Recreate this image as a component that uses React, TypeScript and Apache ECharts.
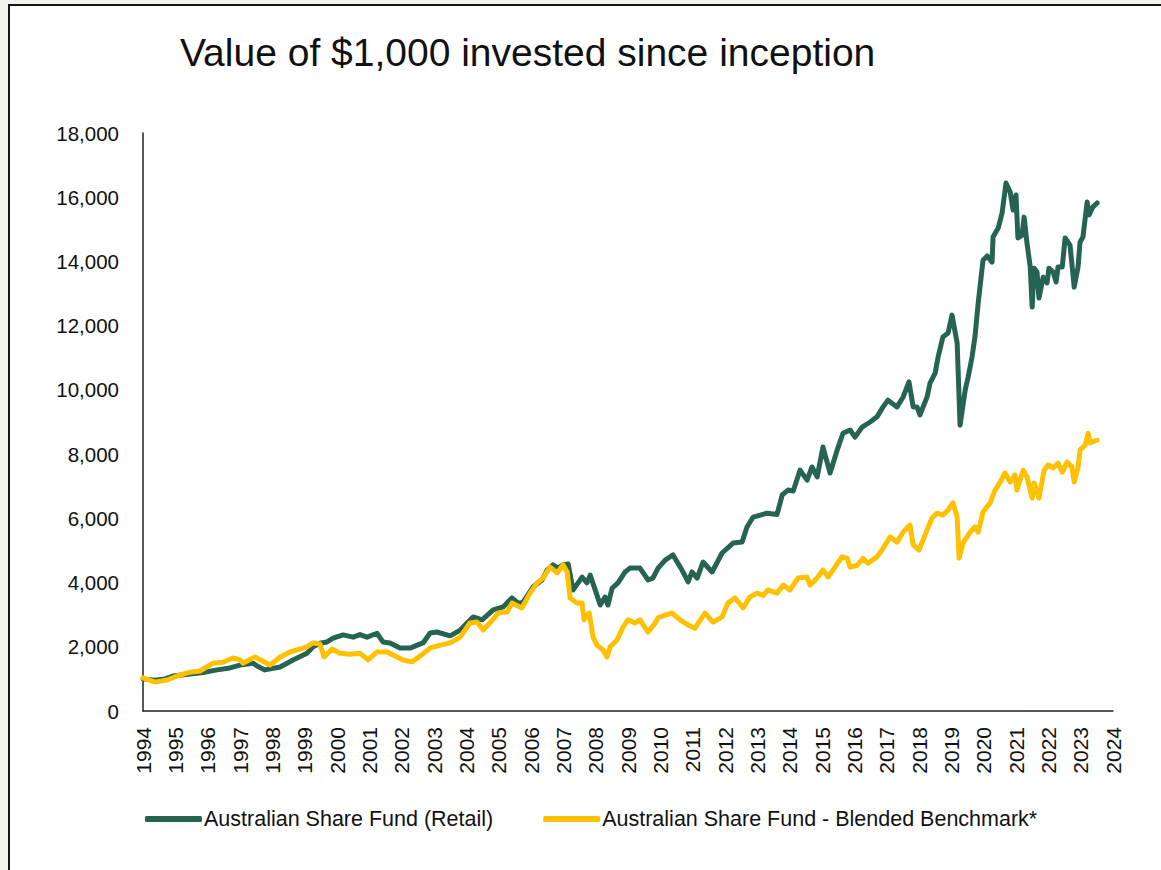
import React, { useEffect, useRef } from "react";
import * as echarts from "echarts";

const title = "Value of $1,000 invested since inception";
const fundName = "Australian Share Fund (Retail)";
const benchName = "Australian Share Fund - Blended Benchmark*";

const fundDates = [
  1994.0, 1994.37, 1994.68, 1994.93, 1995.45, 1995.86, 1996.29, 1996.69, 1997.0, 1997.4, 1997.53, 1997.77,
  1998.24, 1998.64, 1999.07, 1999.26, 1999.47, 1999.69, 1999.88, 2000.19, 2000.5, 2000.71, 2000.93, 2001.24,
  2001.42, 2001.64, 2001.95, 2002.26, 2002.48, 2002.66, 2002.88, 2003.09, 2003.5, 2003.81, 2004.21, 2004.49,
  2004.83, 2005.14, 2005.41, 2005.6, 2005.75, 2006.06, 2006.34, 2006.5, 2006.68, 2006.84, 2006.99, 2007.15,
  2007.3, 2007.58, 2007.73, 2007.83, 2008.04, 2008.14, 2008.29, 2008.38, 2008.51, 2008.69, 2008.91, 2009.06,
  2009.37, 2009.62, 2009.77, 2009.93, 2010.15, 2010.39, 2010.67, 2010.86, 2010.98, 2011.14, 2011.32, 2011.6,
  2011.91, 2012.25, 2012.53, 2012.68, 2012.87, 2013.3, 2013.61, 2013.77, 2013.95, 2014.11, 2014.32, 2014.54,
  2014.69, 2014.85, 2015.03, 2015.25, 2015.47, 2015.65, 2015.87, 2016.02, 2016.24, 2016.49, 2016.7, 2016.89,
  2017.04, 2017.32, 2017.51, 2017.69, 2017.82, 2017.94, 2018.03, 2018.25, 2018.34, 2018.5, 2018.59, 2018.74,
  2018.9, 2019.02, 2019.18, 2019.27, 2019.43, 2019.52, 2019.64, 2019.73, 2019.83, 2019.98, 2020.11, 2020.26,
  2020.29, 2020.45, 2020.57, 2020.69, 2020.82, 2020.91, 2021.0, 2021.06, 2021.19, 2021.25, 2021.34, 2021.44,
  2021.5, 2021.56, 2021.65, 2021.71, 2021.84, 2021.96, 2022.02, 2022.15, 2022.24, 2022.3, 2022.43, 2022.52,
  2022.67, 2022.77, 2022.8, 2022.92, 2022.98, 2023.07, 2023.2, 2023.26, 2023.38, 2023.51,
];
const fundValues = [
  1000, 960, 1000, 1090, 1150, 1200, 1280, 1340, 1430, 1490, 1400, 1280,
  1370, 1590, 1800, 2000, 2110, 2150, 2270, 2370, 2300, 2380, 2300, 2420,
  2150, 2120, 1960, 1960, 2050, 2120, 2430, 2460, 2340, 2520, 2930, 2840,
  3150, 3240, 3520, 3360, 3380, 3860, 4080, 4390, 4550, 4450, 4550, 4580,
  3770, 4170, 3990, 4230, 3610, 3300, 3550, 3300, 3830, 3990, 4330, 4450,
  4450, 4080, 4140, 4450, 4700, 4860, 4390, 4020, 4330, 4140, 4640, 4330,
  4920, 5230, 5260, 5730, 6040, 6160, 6120, 6730, 6880, 6850, 7500, 7190,
  7600, 7290, 8220, 7410, 8130, 8650, 8750, 8530, 8840, 9000, 9160, 9470,
  9680, 9470, 9780, 10250, 9470, 9470, 9220, 9780, 10210, 10520, 11020, 11650,
  11770, 12330, 11460, 8900, 10000, 10400, 11020, 11650, 12700, 14040, 14170, 13980,
  14760, 15040, 15510, 16440, 16160, 15600, 16070, 14730, 14820, 15380, 14570, 13830,
  12580, 13790, 13670, 12860, 13510, 13330, 13790, 13670, 13360, 13830, 13830, 14730,
  14510, 13510, 13200, 13830, 14600, 14760, 15850, 15450, 15700, 15820,
];

const benchDates = [
  1994.0, 1994.37, 1994.74, 1995.05, 1995.45, 1995.76, 1996.17, 1996.47, 1996.78, 1997.0, 1997.09, 1997.46,
  1997.93, 1998.24, 1998.55, 1998.86, 1999.07, 1999.26, 1999.47, 1999.6, 1999.85, 2000.09, 2000.4, 2000.71,
  2000.96, 2001.24, 2001.55, 2001.86, 2002.04, 2002.32, 2002.57, 2002.88, 2003.19, 2003.5, 2003.81, 2004.11,
  2004.33, 2004.52, 2004.73, 2004.98, 2005.26, 2005.41, 2005.72, 2005.97, 2006.19, 2006.37, 2006.59, 2006.81,
  2006.99, 2007.12, 2007.21, 2007.42, 2007.58, 2007.64, 2007.8, 2007.92, 2008.04, 2008.23, 2008.35, 2008.45,
  2008.66, 2008.85, 2009.0, 2009.22, 2009.37, 2009.62, 2009.84, 2009.93, 2010.15, 2010.36, 2010.61, 2010.86,
  2011.07, 2011.38, 2011.63, 2011.91, 2012.09, 2012.31, 2012.56, 2012.77, 2012.99, 2013.18, 2013.33, 2013.61,
  2013.8, 2014.01, 2014.26, 2014.54, 2014.63, 2014.85, 2015.03, 2015.19, 2015.4, 2015.62, 2015.78, 2015.87,
  2016.08, 2016.27, 2016.42, 2016.7, 2016.89, 2017.11, 2017.32, 2017.51, 2017.72, 2017.82, 2018.0, 2018.25,
  2018.4, 2018.56, 2018.74, 2018.9, 2019.05, 2019.18, 2019.24, 2019.36, 2019.58, 2019.73, 2019.83, 2019.98,
  2020.2, 2020.35, 2020.51, 2020.66, 2020.82, 2020.97, 2021.03, 2021.22, 2021.34, 2021.5, 2021.56, 2021.71,
  2021.87, 2021.99, 2022.15, 2022.3, 2022.43, 2022.58, 2022.73, 2022.8, 2022.92, 2022.98, 2023.14, 2023.23,
  2023.29, 2023.51,
];
const benchValues = [
  1030, 900, 965, 1090, 1210, 1245, 1490, 1520, 1650, 1590, 1490, 1680,
  1430, 1680, 1840, 1930, 2000, 2120, 2090, 1680, 1930, 1800, 1770, 1800,
  1590, 1840, 1840, 1680, 1590, 1530, 1710, 1960, 2050, 2120, 2300, 2740,
  2770, 2520, 2740, 3050, 3080, 3360, 3210, 3670, 3990, 4140, 4480, 4300,
  4550, 4330, 3520, 3360, 3360, 2840, 3050, 2300, 2050, 1900, 1680, 2000,
  2210, 2620, 2840, 2740, 2840, 2460, 2740, 2900, 2990, 3050, 2840, 2680,
  2580, 3050, 2770, 2930, 3360, 3520, 3210, 3550, 3670, 3600, 3770, 3670,
  3920, 3770, 4140, 4170, 3920, 4140, 4390, 4170, 4480, 4800, 4750, 4480,
  4530, 4750, 4600, 4800, 5070, 5420, 5260, 5570, 5790, 5170, 5010, 5640,
  6010, 6160, 6100, 6260, 6480, 6040, 4760, 5230, 5570, 5730, 5570, 6200,
  6480, 6880, 7130, 7410, 7130, 7350, 6880, 7500, 7290, 6630, 7100, 6630,
  7500, 7660, 7570, 7720, 7440, 7750, 7600, 7130, 7600, 8130, 8280, 8650,
  8350, 8440,
];

const yMin = 0;
const yMax = 18000;
const yStep = 2000;
const xMin = 1994;
const xMax = 2024;

const GREEN = "#256352";
const YELLOW = "#ffc000";
const FONT = "Liberation Sans, Arial, sans-serif";

export default function App() {
  const ref = useRef<HTMLDivElement>(null);

  useEffect(() => {
    document.body.style.margin = "0";
    document.body.style.background = "#f3f3ef";
    document.body.style.overflow = "hidden";
    if (!ref.current) return;
    const chart = echarts.init(ref.current, undefined, { renderer: "svg" });
    const fundData = fundDates.map((d, i) => [d, fundValues[i]]);
    const benchData = benchDates.map((d, i) => [d, benchValues[i]]);
    chart.setOption({
      animation: false,
      backgroundColor: "#ffffff",
      textStyle: { fontFamily: FONT },
      title: {
        text: title,
        left: 165,
        top: 22,
        textStyle: { fontSize: 39, fontWeight: "normal", color: "#111", fontFamily: FONT },
      },
      grid: { left: 133, top: 127, width: 970, height: 578, containLabel: false },
      xAxis: {
        type: "value",
        min: xMin,
        max: xMax,
        interval: 1,
        axisLine: { show: true, lineStyle: { color: "#222", width: 1.5 } },
        axisTick: { show: false },
        splitLine: { show: false },
        axisLabel: {
          rotate: 90,
          margin: 16,
          fontSize: 21,
          color: "#111",
          fontFamily: FONT,
          formatter: (v: number) => String(Math.round(v)),
        },
      },
      yAxis: {
        type: "value",
        min: yMin,
        max: yMax,
        interval: yStep,
        axisLine: { show: true, lineStyle: { color: "#222", width: 1.5 } },
        axisTick: { show: false },
        splitLine: { show: false },
        axisLabel: {
          margin: 24,
          fontSize: 20.5,
          color: "#111",
          fontFamily: FONT,
          formatter: (v: number) => v.toLocaleString("en-US"),
        },
      },
      legend: {
        left: 130,
        top: 797,
        itemWidth: 57,
        itemHeight: 6,
        itemGap: 50,
        textStyle: { fontSize: 21.5, color: "#111", fontFamily: FONT, padding: [0, 0, 0, -3] },
        data: [
          { name: fundName, icon: "roundRect" },
          { name: benchName, icon: "roundRect" },
        ],
      },
      series: [
        {
          name: fundName,
          type: "line",
          data: fundData,
          showSymbol: false,
          symbol: "none",
          color: GREEN,
          lineStyle: { color: GREEN, width: 5, cap: "round", join: "round" },
          z: 3,
        },
        {
          name: benchName,
          type: "line",
          data: benchData,
          showSymbol: false,
          symbol: "none",
          color: YELLOW,
          lineStyle: { color: YELLOW, width: 5, cap: "round", join: "round" },
          z: 4,
        },
      ],
    });
    return () => chart.dispose();
  }, []);

  return (
    <div
      style={{
        position: "absolute",
        left: 8,
        top: 4,
        borderLeft: "2px solid #151515",
        borderTop: "2px solid #151515",
        background: "#fff",
      }}
    >
      <div ref={ref} style={{ width: 1151, height: 864 }} />
    </div>
  );
}
